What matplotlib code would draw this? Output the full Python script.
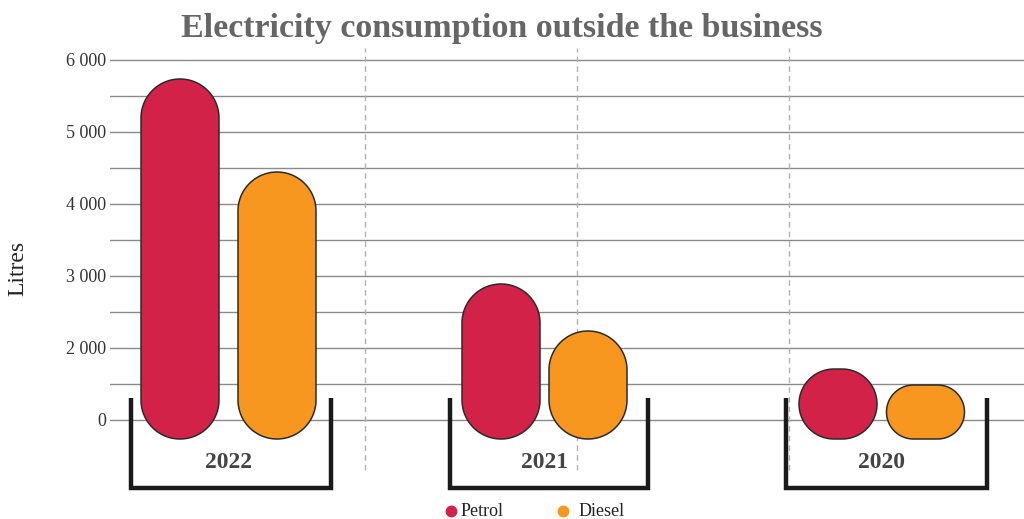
import numpy as np
import matplotlib.pyplot as plt
from matplotlib.patches import Polygon
from matplotlib.lines import Line2D

# data (in the chart's own vertical scale, bars start at a common base)
years = ["2022", "2021", "2020"]
petrol = [5736, 2889, 1708]
diesel = [4444, 2236, 1486]
bar_base = 736
series_names = ["Petrol", "Diesel"]
tick_values = [1000, 2000, 3000, 4000, 5000, 6000]
tick_labels = ["0", "2 000", "3 000", "4 000", "5 000", "6 000"]

# layout (x in units of 100 px from the axes left edge)
petrol_x = [0.70, 3.91, 7.28]
diesel_x = [1.67, 4.78, 8.155]
bracket_left = [0.21, 3.40, 6.76]
bracket_right = [2.21, 5.38, 8.77]
separators = [2.55, 4.67, 6.79]
bar_w = 0.78

petrol_color = "#D22247"
diesel_color = "#F7971F"
serif = "Liberation Serif"

fig = plt.figure(figsize=(10.24, 5.19), dpi=100)
ax = fig.add_axes([110 / 1024, 0, 914 / 1024, 1])
ax.set_xlim(0, 9.14)
ax.set_ylim(-375, 6833)
for s in ax.spines.values():
    s.set_visible(False)

# grid lines every 500
for v in range(1000, 6001, 500):
    ax.axhline(v, color="#8a8a8a", lw=1, zorder=0)
for xs in separators:
    ax.plot([xs, xs], [306, 6167], color="#b0b0b0", lw=1, ls=(0, (4, 3)), zorder=0)

ax.set_xticks([])
ax.set_yticks(tick_values)
ax.set_yticklabels(tick_labels, fontfamily=serif, fontsize=13, color="#333333")
ax.tick_params(axis="y", length=0, pad=3)

# pixel scale for rounded shapes
sx = 0.01
sy = 1 / 0.072


def rounded_bar(xc, top, color):
    h_px = (top - bar_base) / sy
    r_px = min(bar_w / sx / 2, h_px / 2)
    rx, ry = r_px * sx, r_px * sy
    x0, x1 = xc - bar_w / 2 + rx, xc + bar_w / 2 - rx
    y0, y1 = bar_base + ry, top - ry
    pts = []
    for cx, cy, a0 in ((x1, y1, 0), (x0, y1, 90), (x0, y0, 180), (x1, y0, 270)):
        t = np.radians(np.linspace(a0, a0 + 90, 30))
        pts += list(zip(cx + rx * np.cos(t), cy + ry * np.sin(t)))
    ax.add_patch(Polygon(pts, closed=True, facecolor=color,
                         edgecolor="#2b2b2b", lw=1.1, zorder=3))


for i in range(len(years)):
    rounded_bar(petrol_x[i], petrol[i], petrol_color)
    rounded_bar(diesel_x[i], diesel[i], diesel_color)
    ax.plot([bracket_left[i], bracket_left[i], bracket_right[i], bracket_right[i]],
            [1306, 56, 56, 1306], color="#1a1a1a", lw=3.2,
            solid_joinstyle="miter", solid_capstyle="butt", zorder=4)
    ax.text((petrol_x[i] + diesel_x[i]) / 2, 403, years[i], ha="center", va="center",
            fontfamily=serif, fontsize=17, fontweight="bold", color="#444444")

fig.text(502 / 1024, 1 - 29 / 519, "Electricity consumption outside the business",
         ha="center", va="center", fontfamily=serif, fontsize=24.5,
         fontweight="bold", color="#666666")
fig.text(18 / 1024, 1 - 268 / 519, "Litres", rotation=90, ha="center", va="center",
         fontfamily=serif, fontsize=17, color="#222222")

# legend, placed by hand
legend_marker_x = [451, 563]
legend_text_x = [461, 579]
for name, c, mx, tx in zip(series_names, (petrol_color, diesel_color),
                           legend_marker_x, legend_text_x):
    fig.add_artist(Line2D([mx / 1024], [1 - 511 / 519], marker="o", ls="",
                          markersize=7.5, color=c, transform=fig.transFigure))
    fig.text(tx / 1024, 1 - 511 / 519, name, ha="left", va="center",
             fontfamily=serif, fontsize=13, color="#222222")

fig.savefig("out.png", dpi=100)
